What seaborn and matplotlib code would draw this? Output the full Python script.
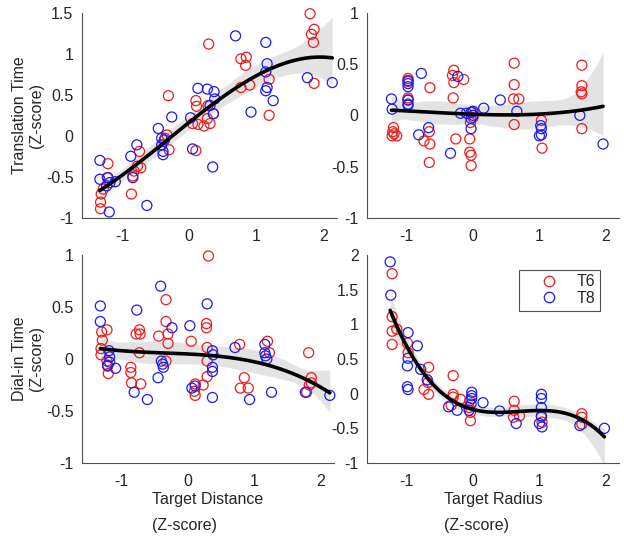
import numpy as np
import pandas as pd
import matplotlib
matplotlib.use("Agg")
import matplotlib.pyplot as plt
import seaborn as sns
from matplotlib.ticker import FuncFormatter
from matplotlib.lines import Line2D

# Translation time vs target distance
trans_dist_t6_x = [1.80, 1.82, 1.86, 1.85, 1.86, 0.29, 0.77, 0.85, 0.84, 0.77, 0.90, 1.19, 1.19,
                   -0.31, 0.10, 0.11, 0.28, 0.05, 0.13, 0.22, 0.27, 0.31, 0.36, 0.10,
                   -0.33, -0.36, -0.30, -0.74, -0.77, -0.72, -0.82, -0.86, -0.84,
                   -1.21, -1.22, -1.31, -1.32, -1.32, -1.28]
trans_dist_t6_y = [1.49, 1.24, 1.30, 1.14, 0.64, 1.12, 0.94, 0.96, 0.86, 0.59, 0.62, 0.69, 0.25,
                   0.49, 0.43, 0.36, 0.37, 0.15, 0.14, 0.12, 0.21, 0.15, 0.27, -0.18,
                   0.01, -0.03, -0.17, -0.19, -0.37, -0.39, -0.43, -0.71, -0.49,
                   -0.34, -0.51, -0.71, -0.81, -0.89, -0.65]
trans_dist_t8_x = [0.69, 1.14, 1.16, 1.14, 1.16, 1.14, 1.25, 0.92, 1.76, 2.13,
                   0.13, 0.27, 0.37, 0.38, 0.31, 0.36, 0.02, 0.05, 0.35,
                   -0.26, -0.46, -0.41, -0.41, -0.39, -0.39, -0.37,
                   -0.78, -0.87, -0.63, -0.84,
                   -1.33, -1.33, -1.21, -1.23, -1.10, -1.19, -1.18]
trans_dist_t8_y = [1.22, 1.14, 0.88, 0.78, 0.59, 0.55, 0.43, 0.29, 0.71, 0.65,
                   0.58, 0.57, 0.54, 0.45, 0.37, 0.27, 0.22, -0.16, -0.38,
                   0.23, 0.09, -0.03, -0.11, -0.19, -0.23, -0.05,
                   -0.11, -0.25, -0.85, -0.51,
                   -0.30, -0.53, -0.51, -0.61, -0.56, -0.93, -0.57]

# Translation time vs target radius
trans_rad_t6_x = [-1.20, -1.21, -1.19, -1.22, -1.15, -0.98, -0.98, -0.98, -0.98,
                  -0.65, -0.66, -0.74, -0.65, -0.66,
                  -0.29, -0.31, -0.29, -0.14, -0.30, -0.26,
                  -0.05, -0.05, -0.03, -0.03, -0.01, 0.00, -0.04,
                  0.62, 0.62, 0.61, 0.69, 0.62, 1.03, 1.04,
                  1.64, 1.64, 1.63, 1.64, 1.64]
trans_rad_t6_y = [-0.12, -0.16, -0.18, -0.20, -0.20, 0.36, 0.33, 0.17, 0.15,
                  0.27, -0.16, -0.25, -0.28, -0.46,
                  0.44, 0.39, 0.32, 0.35, 0.17, -0.23,
                  -0.23, -0.36, -0.39, -0.49, 0.03, -0.02, -0.07,
                  0.51, 0.30, 0.16, 0.16, -0.09, -0.05, -0.32,
                  0.49, 0.29, 0.23, 0.21, -0.13]
trans_rad_t8_x = [-1.23, -1.22, -0.98, -0.98, -0.98, -0.98, -0.98, -0.98,
                  -0.78, -0.82, -0.67, -0.23, -0.34, -0.19, -0.10,
                  -0.03, 0.00, -0.03, -0.03, 0.00, 0.16, 0.41, 0.66,
                  1.02, 1.03, 1.00, 1.03, 1.61, 1.96]
trans_rad_t8_y = [0.16, 0.06, 0.34, 0.31, 0.28, 0.15, 0.11, 0.10,
                  0.41, -0.19, -0.12, 0.38, -0.37, 0.02, 0.02,
                  0.03, 0.00, -0.03, -0.13, 0.04, 0.07, 0.15, 0.04,
                  -0.10, -0.13, -0.20, -0.19, 0.00, -0.28]

# Dial-in time vs target distance
dial_dist_t6_x = [0.31, -1.30, -1.22, -1.29, -1.31, -1.31, -1.21, -1.20, -1.22,
                  -0.86, -0.86, -0.85, -0.71, -0.78, -0.73, -0.72, -0.73,
                  -0.33, -0.33, -0.44, -0.30, -0.30, -0.33,
                  0.05, 0.28, 0.28, 0.29, 0.29, 0.29, 0.23, 0.11, 0.11, 0.10,
                  0.78, 0.85, 0.79, 0.91, 1.20, 1.23,
                  1.82, 1.86, 1.86, 1.83, 1.79]
dial_dist_t6_y = [0.99, 0.26, 0.28, 0.18, 0.10, 0.04, -0.07, -0.14, -0.02,
                  -0.08, -0.13, -0.23, -0.24, 0.24, 0.28, 0.24, 0.06,
                  0.57, 0.36, 0.22, 0.24, 0.15, -0.02,
                  0.17, 0.34, 0.30, 0.11, -0.02, -0.17, -0.25, -0.24, -0.35, -0.31,
                  0.14, -0.18, -0.28, -0.28, 0.17, 0.06,
                  0.06, -0.18, -0.23, -0.25, -0.32]
dial_dist_t8_x = [-1.32, -1.32, -1.19, -1.18, -1.18, -1.21, -1.09,
                  -0.77, -0.81, -0.61, -0.41, -0.24, -0.40, -0.38, -0.37, -0.45,
                  0.03, 0.29, 0.37, 0.38, 0.37, 0.37, 0.37, 0.06, 0.11,
                  0.71, 0.93, 1.16, 1.16, 1.17, 1.19, 1.26, 1.77, 2.14]
dial_dist_t8_y = [0.51, 0.36, 0.08, 0.02, -0.03, -0.06, -0.09,
                  0.47, -0.32, -0.39, 0.70, 0.30, -0.02, -0.05, -0.08, -0.18,
                  0.32, 0.53, 0.08, 0.04, -0.08, -0.12, -0.37, -0.28, -0.26,
                  0.11, -0.39, 0.14, 0.06, 0.03, 0.00, -0.32, -0.32, -0.35]

# Dial-in time vs target radius
dial_rad_t6_x = [-1.22, -1.22, -1.15, -1.22, -1.22, -0.99, -0.98,
                 -0.67, -0.68, -0.74, -0.67, -0.30, -0.30, -0.30, -0.33, -0.19,
                 -0.05, -0.06, -0.04, -0.04, 0.62, 0.62, 0.61, 0.70,
                 1.03, 1.04, 1.64, 1.64, 1.64]
dial_rad_t6_y = [1.73, 1.11, 0.93, 0.90, 0.71, 0.73, 0.59,
                 0.38, 0.16, 0.06, -0.01, 0.26, -0.01, -0.05, -0.17, -0.08,
                 -0.10, -0.20, -0.27, -0.39, -0.11, -0.24, -0.34, -0.32,
                 -0.34, -0.41, -0.29, -0.34, -0.44]
dial_rad_t8_x = [-1.25, -1.24, -0.98, -0.98, -0.99, -0.99, -0.98,
                 -0.84, -0.79, -0.69, -0.37, -0.24,
                 -0.02, -0.02, -0.02, -0.03, -0.06, 0.15, 0.40, 0.65,
                 1.03, 1.03, 1.03, 1.03, 1.00, 1.04, 1.61, 1.98]
dial_rad_t8_y = [1.90, 1.42, 0.88, 0.51, 0.40, 0.10, 0.06,
                 0.69, 0.35, 0.20, -0.19, -0.24,
                 0.02, -0.03, -0.07, -0.15, -0.24, -0.13, -0.25, -0.43,
                 -0.01, -0.07, -0.20, -0.32, -0.43, -0.48, -0.46, -0.50]

subjects = ["T6", "T8"]
subject_colors = {"T6": "#ee1c1c", "T8": "#1c1cee"}

panels = [
    (trans_dist_t6_x, trans_dist_t6_y, trans_dist_t8_x, trans_dist_t8_y, (-1, 1.5)),
    (trans_rad_t6_x, trans_rad_t6_y, trans_rad_t8_x, trans_rad_t8_y, (-1, 1)),
    (dial_dist_t6_x, dial_dist_t6_y, dial_dist_t8_x, dial_dist_t8_y, (-1, 1)),
    (dial_rad_t6_x, dial_rad_t6_y, dial_rad_t8_x, dial_rad_t8_y, (-1, 2)),
]

sns.set_style("white")
plt.rcParams["font.family"] = ["Liberation Sans", "DejaVu Sans"]
plt.rcParams["font.size"] = 11.5

fig = plt.figure(figsize=(6.24, 5.39), dpi=100)
boxes = [
    [0.131, 0.596, 0.409, 0.380],
    [0.588, 0.596, 0.404, 0.380],
    [0.131, 0.141, 0.404, 0.386],
    [0.588, 0.141, 0.404, 0.386],
]
spine_col = "#505050"
text_col = "#262626"
fmt = FuncFormatter(lambda v, p: f"{v:g}")

for i, (x6, y6, x8, y8, ylim) in enumerate(panels):
    ax = fig.add_axes(boxes[i])
    df = pd.concat([
        pd.DataFrame({"x": x6, "y": y6, "subject": "T6"}),
        pd.DataFrame({"x": x8, "y": y8, "subject": "T8"}),
    ], ignore_index=True)

    sns.regplot(data=df, x="x", y="y", order=3, scatter=False, ci=95, seed=3,
                color="black", line_kws={"lw": 2.6, "zorder": 4}, ax=ax)
    for c in ax.collections:
        c.set_alpha(0.11)
        c.set_zorder(1)

    sns.scatterplot(data=df, x="x", y="y", hue="subject", palette=subject_colors,
                    marker="o", s=52, linewidth=0.9, zorder=3, legend=False,
                    clip_on=False, ax=ax)
    # open circles: move colour to edges
    for c in ax.collections[1:]:
        c.set_edgecolors(c.get_facecolors())
        c.set_facecolors("none")

    ax.set_xlim(-1.6, 2.2)
    ax.set_ylim(*ylim)
    ax.set_xticks([-1, 0, 1, 2])
    ax.set_yticks(np.arange(ylim[0], ylim[1] + 0.01, 0.5))
    ax.xaxis.set_major_formatter(fmt)
    ax.yaxis.set_major_formatter(fmt)
    ax.tick_params(direction="in", length=3, width=0.8, color=spine_col,
                   labelsize=11.5, labelcolor=text_col, pad=6)
    ax.tick_params(axis="x", pad=8)
    for s in ["top", "right"]:
        ax.spines[s].set_visible(False)
    for s in ["left", "bottom"]:
        ax.spines[s].set_color(spine_col)
        ax.spines[s].set_linewidth(0.8)
    ax.set_xlabel("")
    ax.set_ylabel("")

    if i == 0:
        ax.set_ylabel("Translation Time\n(Z-score)", fontsize=11.5, linespacing=1.2,
                      color=text_col, labelpad=1)
    if i == 2:
        ax.set_ylabel("Dial-in Time\n(Z-score)", fontsize=11.5, linespacing=1.2,
                      color=text_col, labelpad=1)
    if i in (2, 3):
        name = "Target Distance" if i == 2 else "Target Radius"
        ax.set_xlabel(name + "\n(Z-score)", fontsize=11.5, linespacing=1.95,
                      multialignment="left", color=text_col, labelpad=2)
    if i == 3:
        handles = [Line2D([], [], ls="none", marker="o", markersize=7.5,
                          markerfacecolor="none", markeredgewidth=0.9,
                          markeredgecolor=subject_colors[s]) for s in subjects]
        leg = ax.legend(handles, subjects, loc="upper right", bbox_to_anchor=(0.925, 0.93),
                        borderaxespad=0, frameon=True, fancybox=False, edgecolor=text_col,
                        fontsize=11.5, handlelength=3.2, handletextpad=0.1,
                        borderpad=0.3, labelspacing=0.1)
        leg.get_frame().set_linewidth(0.8)

fig.savefig("out.png", dpi=100)
